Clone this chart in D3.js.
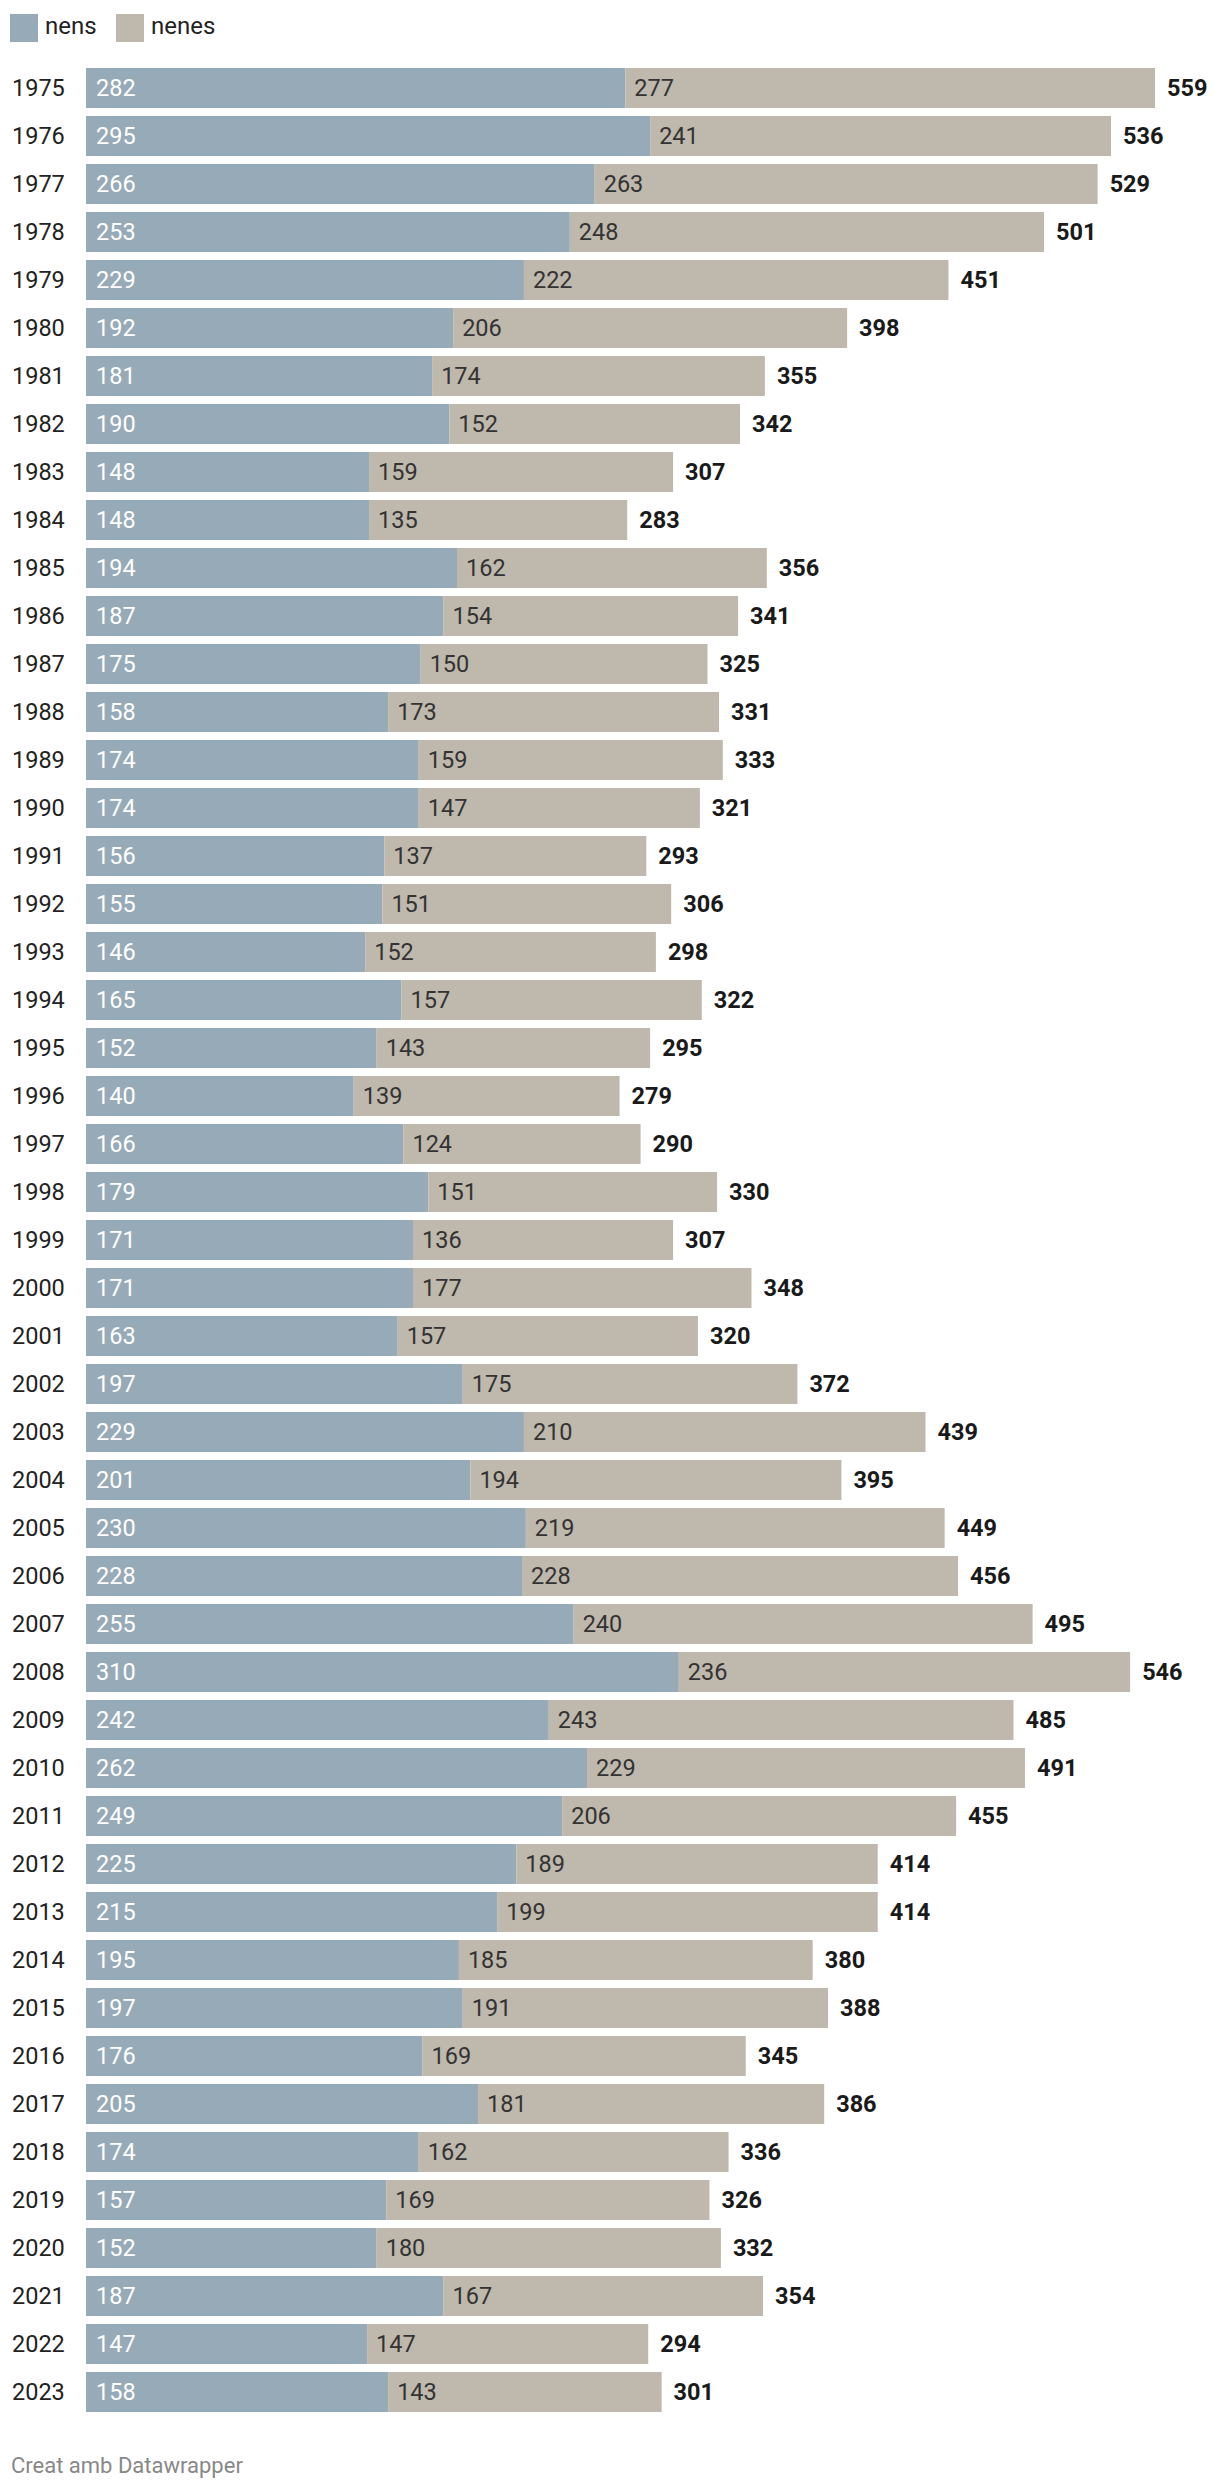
<!DOCTYPE html>
<html><head><meta charset="utf-8">
<script src="https://cdn.jsdelivr.net/npm/d3@7"></script>
<style>body{margin:0;background:#fff;font-family:Roboto,"Noto Sans",sans-serif;}</style>
</head><body><svg id="c" width="1220" height="2490"></svg>
<script>
const years = [1975,1976,1977,1978,1979,1980,1981,1982,1983,1984,1985,1986,1987,1988,1989,1990,1991,1992,1993,1994,1995,1996,1997,1998,1999,2000,2001,2002,2003,2004,2005,2006,2007,2008,2009,2010,2011,2012,2013,2014,2015,2016,2017,2018,2019,2020,2021,2022,2023];
const nens = [282,295,266,253,229,192,181,190,148,148,194,187,175,158,174,174,156,155,146,165,152,140,166,179,171,171,163,197,229,201,230,228,255,310,242,262,249,225,215,195,197,176,205,174,157,152,187,147,158];
const nenes = [277,241,263,248,222,206,174,152,159,135,162,154,150,173,159,147,137,151,152,157,143,139,124,151,136,177,157,175,210,194,219,228,240,236,243,229,206,189,199,185,191,169,181,162,169,180,167,147,143];
const seriesNames = ["nens","nenes"];
const colors = ["#97aab7","#bfb8ac"];

const svg = d3.select("#c");
const rows = years.map((y,i)=>({year:y, a:nens[i], b:nenes[i], t:nens[i]+nenes[i]}));
const x = d3.scaleLinear().domain([0, d3.max(rows,d=>d.t)]).range([86,1155]);
const y = d3.scaleBand().domain(years).range([68, 68+48*years.length]).paddingInner(8/48).paddingOuter(0).align(0);
const h = 40;

// legend
const lg = svg.append("g");
const lx = [10,116];
seriesNames.forEach((n,i)=>{
  lg.append("rect").attr("x",lx[i]).attr("y",14).attr("width",28).attr("height",28).attr("fill",colors[i]);
  lg.append("text").attr("x",lx[i]+35).attr("y",34).attr("font-size",24).attr("fill","#222").text(n);
});

const g = svg.append("g");
const row = g.selectAll("g.row").data(rows).join("g").attr("class","row")
  .attr("transform",d=>`translate(0,${68+years.indexOf(d.year)*48})`);
row.append("text").attr("x",12).attr("y",h/2).attr("dy","0.36em").attr("font-size",23.5).attr("fill","#222").text(d=>d.year);
row.append("rect").attr("x",x(0)).attr("y",0).attr("height",h).attr("width",d=>x(d.a)-x(0)).attr("fill",colors[0]);
row.append("rect").attr("x",d=>x(d.a)).attr("y",0).attr("height",h).attr("width",d=>x(d.t)-x(d.a)).attr("fill",colors[1]);
row.append("text").attr("x",x(0)+10).attr("y",h/2).attr("dy","0.36em").attr("font-size",23.5).attr("fill","#fff").text(d=>d.a);
row.append("text").attr("x",d=>x(d.a)+9).attr("y",h/2).attr("dy","0.36em").attr("font-size",23.5).attr("fill","#333").text(d=>d.b);
row.append("text").attr("x",d=>x(d.t)+12).attr("y",h/2).attr("dy","0.36em").attr("font-size",23.5).attr("font-weight","bold").attr("fill","#1a1a1a").text(d=>d.t);

svg.append("text").attr("x",11).attr("y",2473).attr("font-size",22).attr("fill","#888").text("Creat amb Datawrapper");
</script></body></html>
